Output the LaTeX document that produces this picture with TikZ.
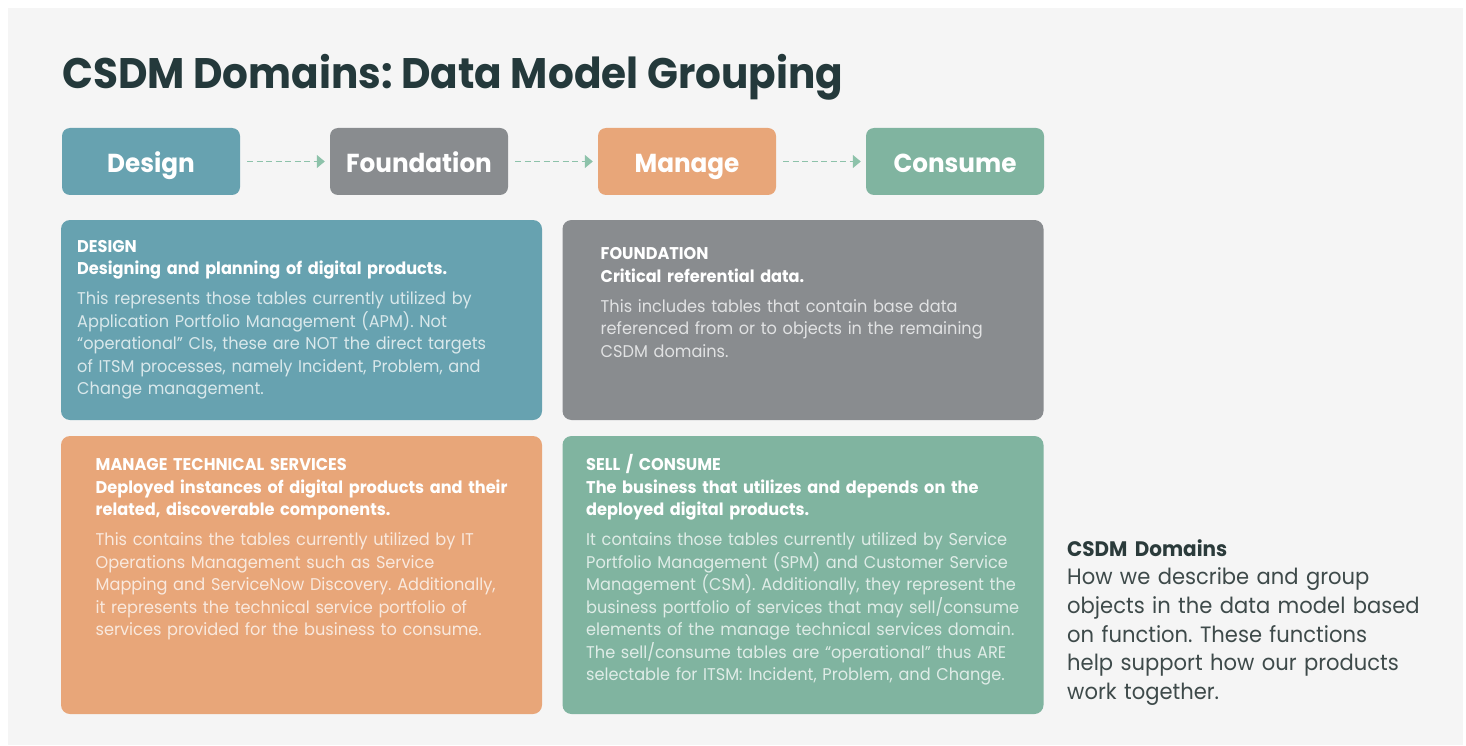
\documentclass[tikz,border=0pt]{standalone}
\usepackage{fontspec}
\setmainfont{Poppins}[FakeStretch=0.95]
\usetikzlibrary{arrows.meta}
\definecolor{designcol}{HTML}{67A2B0}
\definecolor{foundcol}{HTML}{898C8F}
\definecolor{managecol}{HTML}{E8A679}
\definecolor{consumecol}{HTML}{80B4A0}
\definecolor{pagecol}{HTML}{F5F5F5}
\definecolor{titlecol}{HTML}{24393B}
\definecolor{notehead}{HTML}{2B3B3B}
\definecolor{notecol}{HTML}{3E4A4A}
\definecolor{flowcol}{HTML}{8DC2AA}
\frenchspacing

\begin{document}
\begin{tikzpicture}[x=1pt,y=-1pt]
  \tikzset{stagebox/.style={rectangle,rounded corners=8pt,minimum width=178pt,minimum height=67pt,inner sep=0pt,text height=22pt,text depth=0pt,text=white,font=\fontsize{26}{30}\selectfont\bfseries}}
  \tikzset{domainbox/.style={rectangle,rounded corners=9pt,minimum width=481pt,inner sep=0pt}}
  \tikzset{domaintext/.style={anchor=base west,inner sep=0pt,text width=460pt,align=left,text=white,font=\fontsize{17}{22.5}\selectfont}}
  \tikzset{flowarrow/.style={draw=flowcol,line width=1.3pt,dash pattern=on 6pt off 3.5pt,-{Triangle[length=8pt,width=13pt]},shorten <=7pt,shorten >=5pt}}
  \useasboundingbox (0,0) rectangle (1466,746);
  \fill[white] (0,0) rectangle (1466,746);
  \fill[pagecol] (8,8) rectangle (1463,745);
  \node[anchor=base west,inner sep=0pt,text=titlecol,font=\fontsize{42.7}{50}\selectfont\bfseries] (title) at (62,88.5) {CSDM Domains: Data Model Grouping};
  \node[stagebox,fill=designcol] (design) at (151,161.5) {Design};
  \node[stagebox,fill=foundcol] (foundation) at (419,161.5) {Foundation};
  \node[stagebox,fill=managecol] (manage) at (687,161.5) {Manage};
  \node[stagebox,fill=consumecol] (consume) at (955,161.5) {Consume};
  \draw[flowarrow] (design) -- (foundation);
  \draw[flowarrow] (foundation) -- (manage);
  \draw[flowarrow] (manage) -- (consume);
  \node[domainbox,fill=designcol,minimum height=200pt] (designpanel) at (301.5,320) {};
  \node[domainbox,fill=foundcol,minimum height=200pt] (foundpanel) at (803,320) {};
  \node[domainbox,fill=managecol,minimum height=278pt] (managepanel) at (301.5,575) {};
  \node[domainbox,fill=consumecol,minimum height=278pt] (consumepanel) at (803,575) {};
  \node[domaintext] (designtext) at (77,252) {\textbf{DESIGN}\\
    \textbf{Designing and planning of digital products.}\par\vspace{7.5pt}
    \textcolor{white!75!designcol}{This represents those tables currently utilized by\\
    Application Portfolio Management (APM). Not\\
    “operational” CIs, these are NOT the direct targets\\
    of ITSM processes, namely Incident, Problem, and\\
    Change management.}};
  \node[domaintext] (foundtext) at (600.5,259.5) {\textbf{FOUNDATION}\\
    \textbf{Critical referential data.}\par\vspace{7.5pt}
    \textcolor{white!75!foundcol}{This includes tables that contain base data\\
    referenced from or to objects in the remaining\\
    CSDM domains.}};
  \node[domaintext] (managetext) at (95.5,470.5) {\textbf{MANAGE TECHNICAL SERVICES}\\
    \textbf{Deployed instances of digital products and their}\\
    \textbf{related, discoverable components.}\par\vspace{7.5pt}
    \textcolor{white!75!managecol}{This contains the tables currently utilized by IT\\
    Operations Management such as Service\\
    Mapping and ServiceNow Discovery. Additionally,\\
    it represents the technical service portfolio of\\
    services provided for the business to consume.}};
  \node[domaintext] (consumetext) at (586,470.5) {\textbf{SELL / CONSUME}\\
    \textbf{The business that utilizes and depends on the}\\
    \textbf{deployed digital products.}\par\vspace{7.5pt}
    \textcolor{white!75!consumecol}{It contains those tables currently utilized by Service\\
    Portfolio Management (SPM) and Customer Service\\
    Management (CSM). Additionally, they represent the\\
    business portfolio of services that may sell/consume\\
    elements of the manage technical services domain.\\
    The sell/consume tables are “operational” thus ARE\\
    selectable for ITSM: Incident, Problem, and Change.}};
  \node[anchor=base west,inner sep=0pt,text width=390pt,align=left,text=notecol,font=\fontsize{22.2}{28.7}\selectfont] (note) at (1067,556) {\textcolor{notehead}{\fontsize{21}{28.7}\selectfont\bfseries CSDM Domains}\\
    How we describe and group\\
    objects in the data model based\\
    on function. These functions\\
    help support how our products\\
    work together.};
\end{tikzpicture}
\end{document}
